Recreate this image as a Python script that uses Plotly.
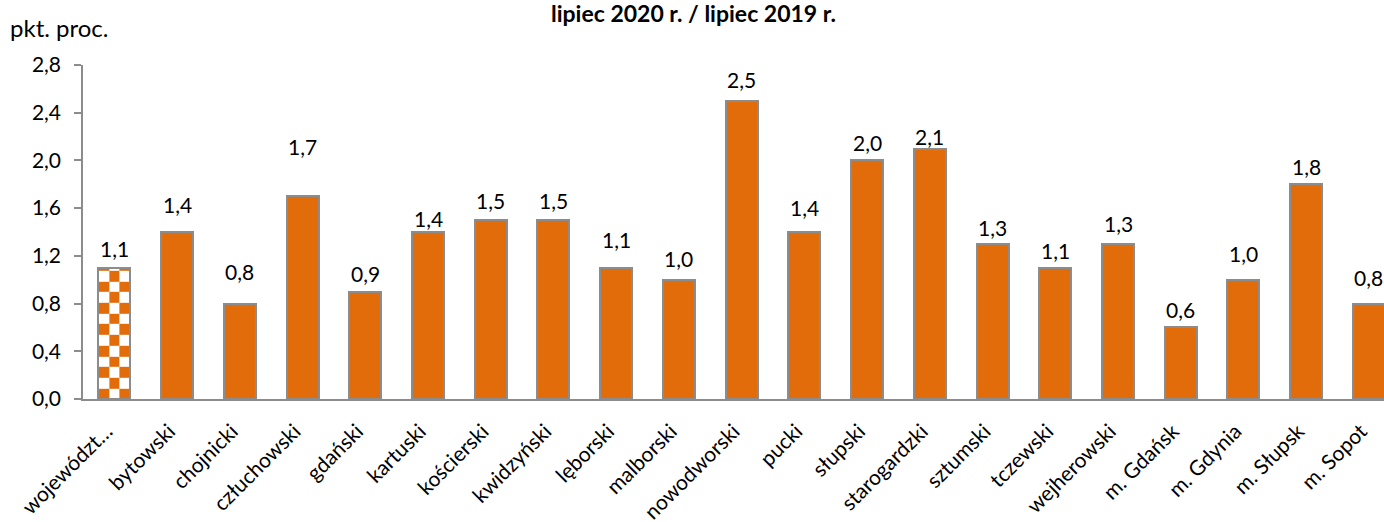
import numpy as np
import plotly.graph_objects as go

categories = ["województ…", "bytowski", "chojnicki", "człuchowski", "gdański", "kartuski",
              "kościerski", "kwidzyński", "lęborski", "malborski", "nowodworski", "pucki",
              "słupski", "starogardzki", "sztumski", "tczewski", "wejherowski", "m. Gdańsk",
              "m. Gdynia", "m. Słupsk", "m. Sopot"]
values = [1.1, 1.4, 0.8, 1.7, 0.9, 1.4, 1.5, 1.5, 1.1, 1.0, 2.5, 1.4, 2.0, 2.1, 1.3, 1.1,
          1.3, 0.6, 1.0, 1.8, 0.8]
y_ticks = [0.0, 0.4, 0.8, 1.2, 1.6, 2.0, 2.4, 2.8]

# label offsets above bar tops (px), as placed in the original
label_shift = [19, 28, 32, 50, 18, 14, 20, 20, 28, 21, 21, 25, 18, 12, 16, 17, 20, 18, 26, 18, 26]

ORANGE = "#E36C0A"
GREY = "#8c8c8c"
FONT = "Lato"
BAR_W = 0.51

xs = list(range(len(categories)))

fig = go.Figure()

# checkerboard fill for the first (voivodeship) bar
ncols = 3
cell_x = BAR_W / ncols
cell_y = 0.0895
x_edges = [xs[0] - BAR_W / 2 + i * cell_x for i in range(ncols + 1)]
y_edges = list(np.arange(0, values[0], cell_y))
if values[0] - y_edges[-1] > 1e-6:
    y_edges.append(values[0])
nrows = len(y_edges) - 1
top = nrows - 1
z = [[1 if ((top - r) + c) % 2 == 0 else 0 for c in range(ncols)] for r in range(nrows)]
fig.add_trace(go.Heatmap(x=x_edges, y=y_edges, z=z, zsmooth=False, showscale=False,
                         colorscale=[[0, "white"], [1, ORANGE]], hoverinfo="skip"))

colors = ["rgba(0,0,0,0)"] + [ORANGE] * (len(values) - 1)
fig.add_trace(go.Bar(x=xs, y=values, width=BAR_W,
                     marker=dict(color=colors, line=dict(color=GREY, width=2)),
                     showlegend=False))

annotations = []
for x, v, s in zip(xs, values, label_shift):
    annotations.append(dict(x=x, y=v, xref="x", yref="y", text=f"{v:.1f}".replace(".", ","),
                            showarrow=False, yanchor="middle", yshift=s,
                            font=dict(family=FONT, size=21, color="black")))

# plot area spans px 83..1384 horizontally, 65..399 vertically
annotations.append(dict(xref="paper", yref="paper", x=(693 - 83) / 1301, y=(399 - 13) / 334,
                        text="<b>lipiec 2020 r. / lipiec 2019 r.</b>", showarrow=False,
                        xanchor="center", yanchor="middle",
                        font=dict(family=FONT, size=23, color="black")))
annotations.append(dict(xref="paper", yref="paper", x=(8 - 83) / 1301, y=(399 - 27) / 334,
                        text="pkt. proc.", showarrow=False, xanchor="left", yanchor="middle",
                        font=dict(family=FONT, size=24, color="black")))

fig.update_layout(
    width=1384, height=522,
    margin=dict(l=83, r=0, t=65, b=123),
    plot_bgcolor="white", paper_bgcolor="white",
    separators=", ",
    showlegend=False,
    annotations=annotations,
    bargap=0,
)
fig.update_xaxes(range=[-0.5, 20.24], tickvals=xs, ticktext=categories, tickangle=-45,
                 showgrid=False, zeroline=False, showline=True, linecolor=GREY, linewidth=1.5,
                 ticks="", tickfont=dict(family=FONT, size=21, color="black"),
                 ticklabelstandoff=10, ticklabelshift=-8)
fig.update_yaxes(range=[0, 2.8], tickvals=y_ticks, tickformat=".1f", showgrid=False,
                 zeroline=False, showline=True, linecolor=GREY, linewidth=1.5,
                 ticks="outside", ticklen=7, tickcolor=GREY, tickwidth=1.5,
                 tickfont=dict(family=FONT, size=21, color="black"),
                 ticklabelstandoff=9)

fig.write_html("out.html", config={"displayModeBar": False},
               post_script="document.body.style.margin='0';document.body.style.overflow='hidden';")
